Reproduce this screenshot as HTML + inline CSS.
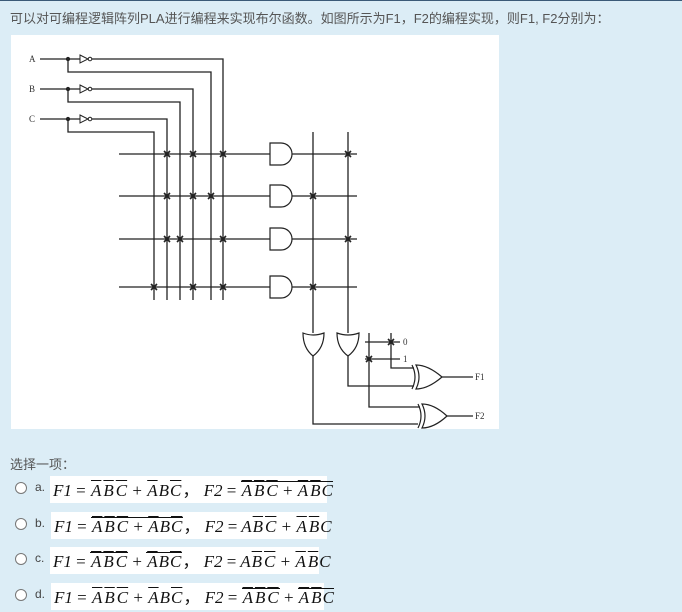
<!DOCTYPE html>
<html><head><meta charset="utf-8"><style>
body{margin:0;width:682px;height:610px;background:#dcedf6;position:relative;overflow:hidden;font-family:"Liberation Sans","Noto Sans CJK SC",sans-serif;}
.top{position:absolute;left:0;top:0;width:682px;height:1px;background:#3b5a78}
.q{position:absolute;left:10px;top:8px;font-size:13px;color:#555;}
.box{position:absolute;left:11px;top:35px;width:488px;height:394px;background:#fff}
.sel{position:absolute;left:10px;top:454px;font-size:13px;color:#555}
.opt{position:absolute;left:0;height:27px}
.rad{position:absolute;left:15px;top:6px;width:10px;height:10px;border:1px solid #777;border-radius:50%;background:#fff}
.lab{position:absolute;left:35px;top:4px;font-size:12px;color:#444}
.mb{position:absolute;top:0;height:27px;background:#fff;font-family:"Liberation Serif",serif;font-style:italic;font-size:17px;line-height:29px;white-space:nowrap;padding-left:3px;color:#111}
.o{text-decoration:overline;margin:0 1px}
.L{display:inline-block;border-top:1px solid #111;line-height:18px}
.n{font-style:normal}
</style></head><body>
<div class="top"></div>
<div class="q">可以对可编程逻辑阵列PLA进行编程来实现布尔函数。如图所示为F1，F2的编程实现，则F1, F2分别为：</div>
<div class="box"></div>
<svg width="682" height="610" style="position:absolute;left:0;top:0" font-family="Liberation Serif" font-size="9" fill="none" stroke="#222" stroke-width="1.3">
<g fill="#333" stroke="none"><text x="29" y="62">A</text><text x="29" y="92">B</text><text x="29" y="122">C</text>
<text x="403" y="345">0</text><text x="403" y="362">1</text><text x="475" y="380">F1</text><text x="475" y="419">F2</text></g>
<path d="M40 59H80M92 59H223V300M68 59V72H211V300"/>
<path d="M40 89H80M92 89H193V300M68 89V102H180V300"/>
<path d="M40 119H80M92 119H167V300M68 119V132H154V300"/>
<g stroke-width="1"><path d="M80 55L88 59L80 63Z"/><circle cx="90" cy="59" r="1.8"/><path d="M80 85L88 89L80 93Z"/><circle cx="90" cy="89" r="1.8"/><path d="M80 115L88 119L80 123Z"/><circle cx="90" cy="119" r="1.8"/></g>
<g fill="#222"><circle cx="68" cy="59" r="1.5"/><circle cx="68" cy="89" r="1.5"/><circle cx="68" cy="119" r="1.5"/></g>
<path d="M119 154H270M119 196H270M119 239H270M119 287H270"/>
<path d="M292 154H357M292 196H357M292 239H357M292 287H357"/>
<g stroke-width="1.2"><path d="M270 143H281A11 11 0 0 1 281 165H270Z"/><path d="M270 185H281A11 11 0 0 1 281 207H270Z"/><path d="M270 228H281A11 11 0 0 1 281 250H270Z"/><path d="M270 276H281A11 11 0 0 1 281 298H270Z"/></g>
<path d="M313 132V333M348 132V333"/>
<g stroke-width="1.6">
<path d="M164 151l6 6m0-6l-6 6M190 151l6 6m0-6l-6 6M220 151l6 6m0-6l-6 6M345 151l6 6m0-6l-6 6"/>
<path d="M164 193l6 6m0-6l-6 6M190 193l6 6m0-6l-6 6M208 193l6 6m0-6l-6 6M310 193l6 6m0-6l-6 6"/>
<path d="M164 236l6 6m0-6l-6 6M177 236l6 6m0-6l-6 6M220 236l6 6m0-6l-6 6M345 236l6 6m0-6l-6 6"/>
<path d="M151 284l6 6m0-6l-6 6M190 284l6 6m0-6l-6 6M220 284l6 6m0-6l-6 6M310 284l6 6m0-6l-6 6"/>
<path d="M388 339l6 6m0-6l-6 6M366 356l6 6m0-6l-6 6"/>
</g>
<g stroke-width="1.2"><path d="M303 333Q313 337 324 333Q324 348 313 356Q303 348 303 333Z"/><path d="M337 333Q348 337 359 333Q359 348 348 356Q337 348 337 333Z"/></g>
<path d="M313 356V424H418M348 356V386H414"/>
<path d="M365 342H400M365 359H400M369 333V407H420M391 333V368H414"/>
<g stroke-width="1.2"><path d="M416 365Q428 365 442 377Q428 389 416 389Q422 377 416 365Z"/><path d="M412 365Q418 377 412 389"/>
<path d="M422 404Q434 404 447 416Q434 428 422 428Q428 416 422 404Z"/><path d="M418 404Q424 416 418 428"/></g>
<path d="M442 377H473M447 416H473"/>
</svg>
<div class="sel">选择一项：</div>
<div class="opt" style="top:476px"><div class="rad"></div><div class="lab">a.</div><div class="mb" style="left:50px;width:274px">F1 <span class="n">=</span> <span class="o">A</span><span class="o">B</span><span class="o">C</span> <span class="n">+</span> <span class="o">A</span>B<span class="o">C</span><span class="n">，</span> F2 <span class="n">=</span> <span class="L"><span class="o">A</span><span class="o">B</span><span class="o">C</span> <span class="n">+</span> <span class="o">A</span><span class="o">B</span>C</span></div></div>
<div class="opt" style="top:512px"><div class="rad"></div><div class="lab">b.</div><div class="mb" style="left:51px;width:273px">F1 <span class="n">=</span> <span class="L"><span class="o">A</span><span class="o">B</span><span class="o">C</span> <span class="n">+</span> <span class="o">A</span>B<span class="o">C</span></span><span class="n">，</span> F2 <span class="n">=</span> A<span class="o">B</span><span class="o">C</span> <span class="n">+</span> <span class="o">A</span><span class="o">B</span>C</div></div>
<div class="opt" style="top:547px"><div class="rad"></div><div class="lab">c.</div><div class="mb" style="left:50px;width:266px">F1 <span class="n">=</span> <span class="L"><span class="o">A</span><span class="o">B</span><span class="o">C</span></span> <span class="n">+</span> <span class="L"><span class="o">A</span>B<span class="o">C</span></span><span class="n">，</span> F2 <span class="n">=</span> A<span class="o">B</span><span class="o">C</span> <span class="n">+</span> <span class="o">A</span><span class="o">B</span>C</div></div>
<div class="opt" style="top:583px"><div class="rad"></div><div class="lab">d.</div><div class="mb" style="left:51px;width:270px">F1 <span class="n">=</span> <span class="o">A</span><span class="o">B</span><span class="o">C</span> <span class="n">+</span> <span class="o">A</span>B<span class="o">C</span><span class="n">，</span> F2 <span class="n">=</span> <span class="L"><span class="o">A</span><span class="o">B</span><span class="o">C</span></span> <span class="n">+</span> <span class="L"><span class="o">A</span><span class="o">B</span>C</span></div></div>
</body></html>
